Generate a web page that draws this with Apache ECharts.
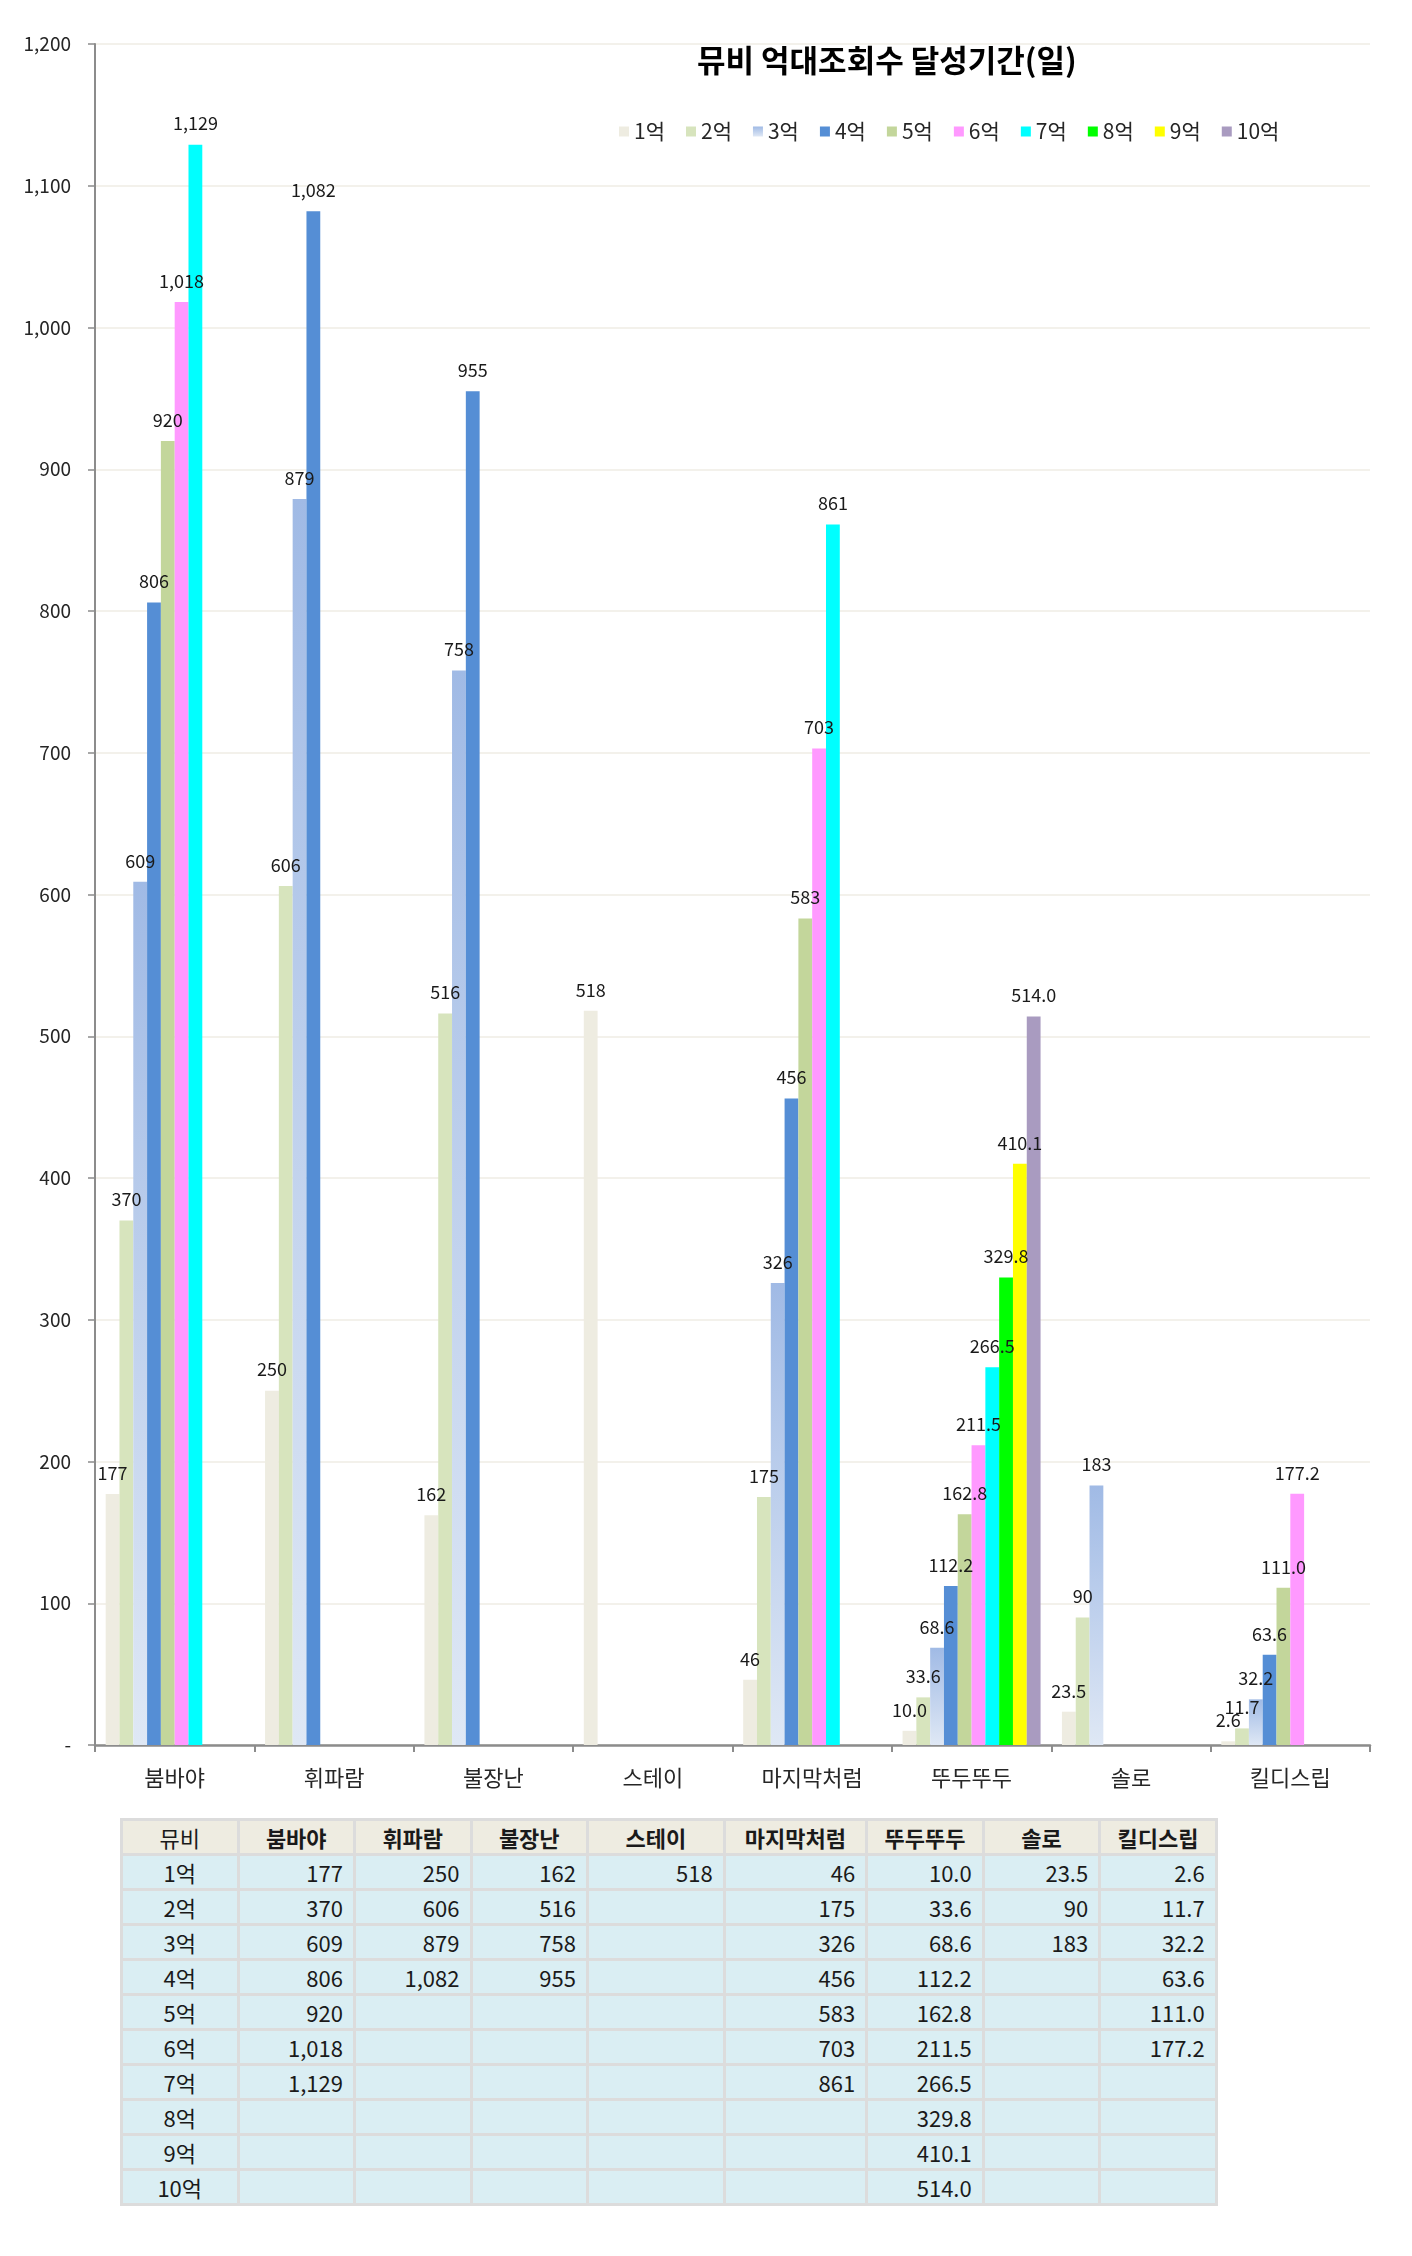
<!DOCTYPE html>
<html>
<head>
<meta charset="utf-8">
<script src="https://cdn.jsdelivr.net/npm/echarts@6/dist/echarts.min.js"></script>
<style>
  html, body { margin: 0; padding: 0; background: #ffffff; }
  #wrap { position: relative; width: 1412px; height: 2256px; }
  #chart { position: absolute; left: 0; top: 0; width: 1412px; height: 1820px; }
  #tbl { position: absolute; left: 120px; top: 1818px; border-collapse: separate; border-spacing: 3px;
         table-layout: fixed;
         background: #DCDCDC; font-family: "Noto Sans CJK KR", "Noto Sans", sans-serif; font-size: 22px; color: #1a1a1a; }
  #tbl td, #tbl th { height: 32px; padding: 0 10px; line-height: 32px; overflow: hidden; white-space: nowrap; }
  #tbl th { background: #EEECE1; font-weight: bold; text-align: center; }
  #tbl th.first { font-weight: normal; }
  #tbl td { background: #DAEEF3; text-align: right; }
  #tbl td.first { text-align: center; }
</style>
</head>
<body>
<div id="wrap">
  <div id="chart"></div>
  <table id="tbl"></table>
</div>
<script>
// ---- data ----
var categories = ['붐바야', '휘파람', '불장난', '스테이', '마지막처럼', '뚜두뚜두', '솔로', '킬디스립'];
var seriesNames = ['1억', '2억', '3억', '4억', '5억', '6억', '7억', '8억', '9억', '10억'];
var s1  = [177, 250, 162, 518, 46, 10.0, 23.5, 2.6];
var s2  = [370, 606, 516, null, 175, 33.6, 90, 11.7];
var s3  = [609, 879, 758, null, 326, 68.6, 183, 32.2];
var s4  = [806, 1082, 955, null, 456, 112.2, null, 63.6];
var s5  = [920, null, null, null, 583, 162.8, null, 111.0];
var s6  = [1018, null, null, null, 703, 211.5, null, 177.2];
var s7  = [1129, null, null, null, 861, 266.5, null, null];
var s8  = [null, null, null, null, null, 329.8, null, null];
var s9  = [null, null, null, null, null, 410.1, null, null];
var s10 = [null, null, null, null, null, 514.0, null, null];
// decimals shown per category (null = as is)
var categoryDecimals = [0, 0, 0, 0, 0, 1, null, 1];
var yTicks = { min: 0, max: 1200, interval: 100 };
var titleText = '뮤비 억대조회수 달성기간(일)';
var tableCorner = '뮤비';

var allSeries = [s1, s2, s3, s4, s5, s6, s7, s8, s9, s10];

function fmt(v, ci) {
  if (v === null || v === undefined) return '';
  var d = categoryDecimals[ci];
  if (d === null) return v.toLocaleString('en-US');
  return v.toLocaleString('en-US', { minimumFractionDigits: d, maximumFractionDigits: d });
}

var FONT = '"Noto Sans CJK KR", "Noto Sans", sans-serif';
var colors = [
  '#EEECE1',
  '#D7E4BD',
  new echarts.graphic.LinearGradient(0, 0, 0, 1, [
    { offset: 0, color: '#A0BAE5' }, { offset: 1, color: '#DFE8F5' }]),
  '#558ED5',
  '#C3D69B',
  '#FF99FF',
  '#00FFFF',
  '#00FF00',
  '#FFFF00',
  '#A99BC0'
];

var series = seriesNames.map(function (name, i) {
  return {
    name: name,
    type: 'bar',
    data: allSeries[i],
    barGap: '0%',
    barCategoryGap: '13.4%',
    itemStyle: { color: colors[i] },
    label: {
      show: true,
      position: 'top',
      distance: 12,
      fontFamily: FONT,
      fontSize: 18,
      color: '#1a1a1a',
      formatter: function (p) { return fmt(p.value, p.dataIndex); }
    },
    emphasis: { disabled: true }
  };
});

var chart = echarts.init(document.getElementById('chart'), null, { renderer: 'canvas' });
chart.setOption({
  backgroundColor: '#ffffff',
  animation: false,
  textStyle: { fontFamily: FONT },
  title: {
    text: titleText,
    left: 692,
    top: 40,
    textStyle: { fontFamily: FONT, fontSize: 31, fontWeight: 'bold', color: '#000000' }
  },
  legend: {
    data: seriesNames,
    left: 614,
    top: 116,
    itemWidth: 10,
    itemHeight: 10,
    itemGap: 21,
    icon: 'rect',
    textStyle: { fontFamily: FONT, fontSize: 21, color: '#262626' }
  },
  grid: { left: 95, right: 42, top: 44, height: 1701, containLabel: false },
  xAxis: {
    type: 'category',
    data: categories,
    axisLine: { lineStyle: { color: '#8C8C8C', width: 2.5 } },
    axisTick: { show: true, length: 7, lineStyle: { color: '#8C8C8C', width: 2 } },
    axisLabel: { fontFamily: FONT, fontSize: 22, color: '#262626', margin: 22, interval: 0 },
    splitLine: { show: false }
  },
  yAxis: {
    type: 'value',
    min: yTicks.min,
    max: yTicks.max,
    interval: yTicks.interval,
    axisLine: { show: true, lineStyle: { color: '#8C8C8C', width: 2 } },
    axisTick: { show: true, length: 7, lineStyle: { color: '#8C8C8C', width: 1.5 } },
    axisLabel: {
      fontFamily: FONT, fontSize: 19, color: '#262626', margin: 24,
      formatter: function (v) { return v === 0 ? '-' : v.toLocaleString('en-US'); }
    },
    splitLine: { lineStyle: { color: '#EFEDE5', width: 1.5 } }
  },
  series: series
});

// ---- table built from the same arrays ----
var tbl = document.getElementById('tbl');
var colWidths = [93.5, 93.5, 93.5, 93.5, 113.7, 119.5, 93.5, 93.5, 93.5];
var html = '<colgroup>';
colWidths.forEach(function (w) { html += '<col style="width:' + (w + 20) + 'px">'; });
html += '</colgroup>';
html += '<tr><th class="first">' + tableCorner + '</th>';
categories.forEach(function (c) { html += '<th>' + c + '</th>'; });
html += '</tr>';
seriesNames.forEach(function (name, si) {
  html += '<tr><td class="first">' + name + '</td>';
  categories.forEach(function (c, ci) {
    html += '<td>' + fmt(allSeries[si][ci], ci) + '</td>';
  });
  html += '</tr>';
});
tbl.innerHTML = html;
var total = colWidths.reduce(function (a, b) { return a + b + 20; }, 0) + 3 * (colWidths.length + 1);
tbl.style.width = total + 'px';
</script>
</body>
</html>
